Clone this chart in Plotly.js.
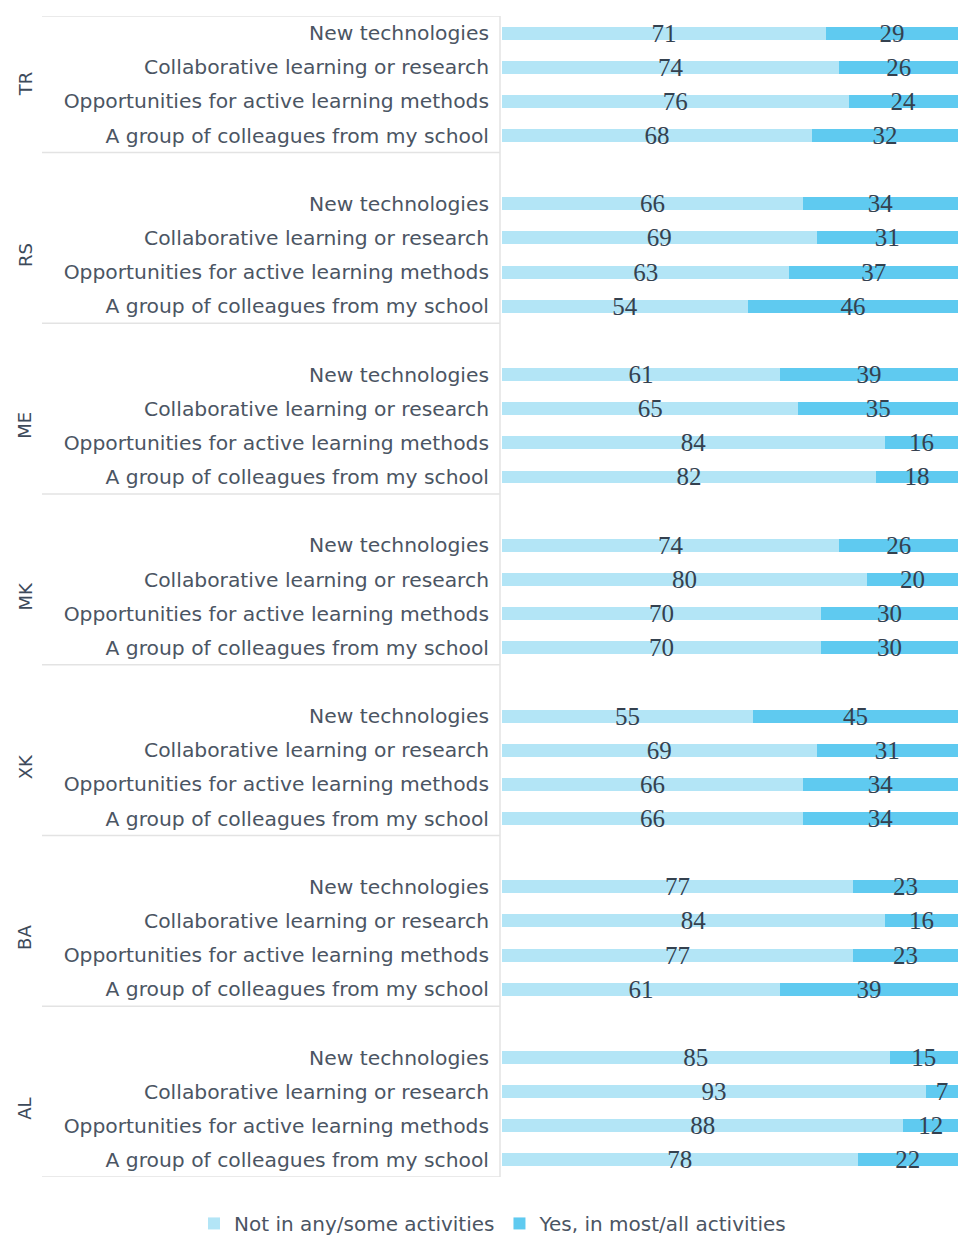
<!DOCTYPE html>
<html>
<head>
<meta charset="utf-8">
<script src="https://cdn.plot.ly/plotly-3.0.1.min.js"></script>
<style>html,body{margin:0;padding:0;background:#fff;}#chart{width:960px;height:1238px;}</style>
</head>
<body>
<div id="chart"></div>
<script>
const groups = ["TR", "RS", "ME", "MK", "XK", "BA", "AL"];
const categories = ["New technologies", "Collaborative learning or research", "Opportunities for active learning methods", "A group of colleagues from my school"];
const seriesNames = ["Not in any/some activities", "Yes, in most/all activities"];
const notInAny = [
  [71, 74, 76, 68],
  [66, 69, 63, 54],
  [61, 65, 84, 82],
  [74, 80, 70, 70],
  [55, 69, 66, 66],
  [77, 84, 77, 61],
  [85, 93, 88, 78]
];
const yesMost = [
  [29, 26, 24, 32],
  [34, 31, 37, 46],
  [39, 35, 16, 18],
  [26, 20, 30, 30],
  [45, 31, 34, 34],
  [23, 16, 23, 39],
  [15, 7, 12, 22]
];
const colors = ["#b3e5f6", "#5fcaf0"];

const slots = 5;
const yPos = [], yLabels = [], v1 = [], v2 = [];
groups.forEach((g, gi) => {
  categories.forEach((c, ci) => {
    yPos.push(gi * slots + ci + 1);
    yLabels.push(c);
    v1.push(notInAny[gi][ci]);
    v2.push(yesMost[gi][ci]);
  });
});

const textFont = {family: "Liberation Serif, DejaVu Serif, serif", size: 25, color: "#34414f"};
function mkTrace(vals, name, color) {
  return {
    type: "bar", orientation: "h", name: name,
    x: vals, y: yPos, width: 0.38,
    marker: {color: color},
    text: vals.map(String), textposition: "inside", insidetextanchor: "middle",
    textangle: 0, constraintext: "none", textfont: textFont, cliponaxis: false,
    hoverinfo: "skip"
  };
}
const traces = [mkTrace(v1, seriesNames[0], colors[0]), mkTrace(v2, seriesNames[1], colors[1])];

const nRows = groups.length * slots;
const yTop = 0.5, yBottom = nRows - 0.5;
const lineColor = "#e3e3e3";
const leftX = (42 - 502) / 456, rightX = (500 - 502) / 456;
const shapes = [];
shapes.push({type: "line", xref: "paper", yref: "y", x0: leftX, x1: rightX, y0: yTop, y1: yTop, line: {color: lineColor, width: 1.5}});
groups.forEach((g, gi) => {
  const yb = gi * slots + 4.5;
  shapes.push({type: "line", xref: "paper", yref: "y", x0: leftX, x1: rightX, y0: yb, y1: yb, line: {color: lineColor, width: 1.5}});
});
shapes.push({type: "line", xref: "paper", yref: "y", x0: rightX, x1: rightX, y0: yTop, y1: yBottom, line: {color: lineColor, width: 1.5}});

const annotations = groups.map((g, gi) => ({
  xref: "paper", yref: "y", x: (25 - 502) / 456, y: gi * slots + 2.5,
  text: g, showarrow: false, textangle: -90,
  font: {family: "DejaVu Sans, sans-serif", size: 18, color: "#3d4a5a"},
  xanchor: "center", yanchor: "middle"
}));

const layout = {
  width: 960, height: 1238,
  margin: {l: 502, r: 2, t: 16, b: 61, autoexpand: false},
  paper_bgcolor: "#ffffff", plot_bgcolor: "#ffffff",
  barmode: "stack", bargap: 0,
  showlegend: true,
  legend: {orientation: "h", x: (194 - 502) / 456, xanchor: "left", y: -0.040, yanchor: "middle",
    font: {family: "DejaVu Sans, sans-serif", size: 20, color: "#4b5563"}, traceorder: "normal",
    itemclick: false, itemdoubleclick: false},
  xaxis: {range: [0, 100], visible: false, fixedrange: true},
  yaxis: {range: [yBottom, yTop], tickmode: "array", tickvals: yPos, ticktext: yLabels,
    showgrid: false, zeroline: false, showline: false, ticks: "", ticklabelstandoff: 12,
    tickfont: {family: "DejaVu Sans, sans-serif", size: 20.3, color: "#4b5563"}, fixedrange: true},
  shapes: shapes,
  annotations: annotations,
  font: {family: "DejaVu Sans, sans-serif"}
};

Plotly.newPlot("chart", traces, layout, {displayModeBar: false, staticPlot: true});
</script>
</body>
</html>
